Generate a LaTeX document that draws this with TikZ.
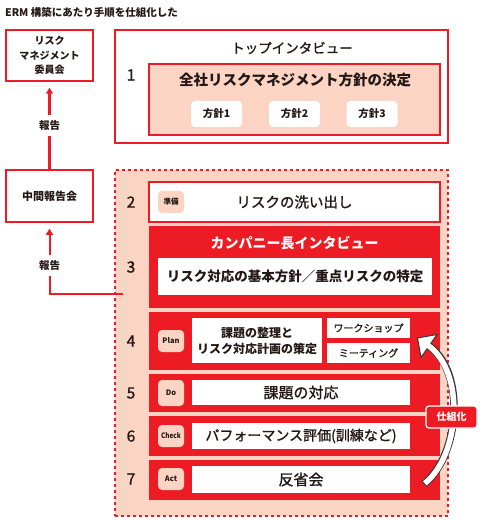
\documentclass[tikz,border=0pt]{standalone}
\usepackage{fontspec}
\setmainfont{Noto Sans CJK JP}
\newfontfamily\medfont{Noto Sans CJK JP}[FakeBold=1.2]
\usepackage{xcolor}
\usepackage{tikz}
\usetikzlibrary{arrows.meta,positioning}
\definecolor{ermred}{RGB}{237,28,36}
\definecolor{ermpink}{RGB}{251,212,195}
\definecolor{ermink}{RGB}{35,24,21}
\definecolor{arrowgray}{RGB}{55,55,55}
\tikzset{
  sidebox/.style={
    rectangle,
    draw=ermred,
    line width=1.5pt,
    fill=white,
    minimum width=87pt,
    minimum height=51pt,
    align=center,
    text=ermink,
    font=\fontsize{10}{14.5}\selectfont\bfseries
  },
  stagebox/.style={
    rectangle,
    draw=ermred,
    line width=1.5pt,
    fill=white,
    minimum width=333pt,
    inner sep=0pt
  },
  redbox/.style={
    rectangle,
    fill=ermred,
    minimum width=291pt,
    inner sep=0pt
  },
  whitebox/.style={
    rectangle,
    fill=white,
    inner sep=0pt,
    align=center,
    text=ermink,
    font=\fontsize{14.5}{16}\selectfont\medfont
  },
  tagbox/.style={
    rectangle,
    rounded corners=4pt,
    fill=ermpink,
    minimum width=26pt,
    minimum height=22pt,
    inner sep=0pt,
    text=ermink,
    font=\fontsize{7.5}{8}\selectfont\bfseries
  },
  policybox/.style={
    rectangle,
    rounded corners=4pt,
    fill=white,
    minimum width=51pt,
    minimum height=26pt,
    inner sep=0pt,
    text=ermink,
    font=\fontsize{10.5}{12}\selectfont\bfseries
  },
  numlabel/.style={
    text=ermink,
    font=\fontsize{15.5}{16}\selectfont\medfont
  },
  cyclabel/.style={
    rectangle,
    rounded corners=3pt,
    fill=ermred,
    draw=white,
    line width=1.2pt,
    minimum width=51pt,
    minimum height=22pt,
    inner sep=0pt,
    text=white,
    font=\fontsize{10}{12}\selectfont\bfseries
  },
  reportlabel/.style={
    fill=white,
    inner sep=5pt,
    text=ermink,
    font=\fontsize{10.5}{12}\selectfont\bfseries
  },
  report/.style={-{Triangle[length=6pt,width=7pt]}, ermred, line width=2.5pt, shorten >=6pt}
}

\begin{document}
\begin{tikzpicture}[x=1pt,y=-1pt]
\useasboundingbox (0,0) rectangle (486,521);
\node[anchor=west, inner sep=0pt, text=ermink, font=\fontsize{10.5}{12}\selectfont\bfseries] (title) at (5,12) {ERM 構築にあたり手順を仕組化した};
\node[sidebox] (committee) at (49.5,55.5) {リスク\\マネジメント\\委員会};
\node[sidebox, minimum height=52pt, font=\fontsize{11}{12}\selectfont\bfseries] (midrep) at (49.5,196) {中間報告会};

\node[stagebox, minimum height=113pt] (top) at (281.5,86.5) {};
\node[text=ermink, font=\fontsize{13.5}{15}\selectfont\medfont] (toptitle) at (292,48) {トップインタビュー};
\node[stagebox, fill=ermpink, minimum width=291pt, minimum height=71pt] (policybg) at (294.5,99.5) {};
\node[text=ermink, font=\fontsize{14.5}{16}\selectfont\bfseries] (policy) at (295,80) {全社リスクマネジメント方針の決定};
\node[policybox] (pol1) at (216.5,114) {方針1};
\node[policybox] (pol2) at (294.5,114) {方針2};
\node[policybox] (pol3) at (372,114) {方針3};
\node[numlabel] (n1) at (131,75) {1};

\node[stagebox, fill=ermpink, dash pattern=on 3pt off 3pt, line width=1.3pt, minimum height=346pt] (phases) at (281.5,343) {};

\node[whitebox, draw=ermred, line width=1.5pt, minimum width=291pt, minimum height=40pt] (prep) at (294.5,202) {リスクの洗い出し};
\node[tagbox] (tagprep) at (171,202) {準備};
\node[numlabel] (n2) at (131,202) {2};

\node[redbox, minimum height=82pt] (row3) at (294.5,267) {};
\node[text=white, font=\fontsize{14}{16}\selectfont\bfseries] (ctitle) at (294.5,243) {カンパニー長インタビュー};
\node[whitebox, minimum width=274pt, minimum height=37pt, font=\fontsize{13.5}{15}\selectfont\bfseries] (basic) at (295,276.5) {リスク対応の基本方針／重点リスクの特定};
\node[numlabel] (n3) at (131,267) {3};

\node[redbox, minimum height=58pt] (row4) at (294.5,341) {};
\node[tagbox] (tagplan) at (171,341) {Plan};
\node[whitebox, minimum width=130pt, minimum height=45pt, font=\fontsize{12}{16}\selectfont\bfseries] (plan) at (257,340.5) {課題の整理と\\リスク対応計画の策定};
\node[whitebox, minimum width=83pt, minimum height=20pt, font=\fontsize{10}{12}\selectfont\medfont] (workshop) at (368.5,328) {ワークショップ};
\node[whitebox, minimum width=83pt, minimum height=20pt, font=\fontsize{10}{12}\selectfont\medfont] (meeting) at (368.5,353) {ミーティング};
\node[numlabel] (n4) at (131,341) {4};

\node[redbox, minimum height=38pt] (row5) at (294.5,393) {};
\node[tagbox, minimum height=26pt] (tagdo) at (171,393) {Do};
\node[whitebox, minimum width=218pt, minimum height=25pt, font=\fontsize{15}{16}\selectfont\medfont] (dotask) at (301,392.5) {課題の対応};
\node[numlabel] (n5) at (131,393) {5};

\node[redbox, minimum height=40pt] (row6) at (294.5,436) {};
\node[tagbox] (tagcheck) at (171,436) {\scalebox{0.85}[1]{Check}};
\node[whitebox, minimum width=218pt, minimum height=26pt, font=\fontsize{14}{16}\selectfont\medfont] (perf) at (301,436) {パフォーマンス評価(訓練など)};
\node[numlabel] (n6) at (131,436) {6};

\node[redbox, minimum height=40pt] (row7) at (294.5,480) {};
\node[tagbox] (tagact) at (171,479) {Act};
\node[whitebox, minimum width=218pt, minimum height=27pt, font=\fontsize{15}{16}\selectfont\medfont] (review) at (301,479.5) {反省会};
\node[numlabel] (n7) at (131,479) {7};

\draw[report] (midrep.north) -- node[reportlabel] {報告} (committee.south);
\coordinate (repstart) at (123,294);
\draw[report, line width=2pt] (repstart) -| node[reportlabel, pos=0.7] {報告} (midrep.south);

\coordinate (cycstart) at (424,484);
\coordinate (cycbase) at (429,346);
\coordinate (cyctip) at (417.5,338);
\coordinate (cycleft) at (437,334.5);
\coordinate (cycright) at (421,357.5);
\draw[arrowgray, line width=7.5pt] (cycstart) .. controls (460,455) and (466,372) .. (cycbase);
\draw[arrowgray, fill=white, line width=1pt] (cyctip) -- (cycleft) -- (cycright) -- cycle;
\draw[white, line width=5.5pt, shorten <=1pt, shorten >=-2pt] (cycstart) .. controls (460,455) and (466,372) .. (cycbase);
\node[cyclabel] (cyc) at (451.5,417) {仕組化};
\end{tikzpicture}
\end{document}
